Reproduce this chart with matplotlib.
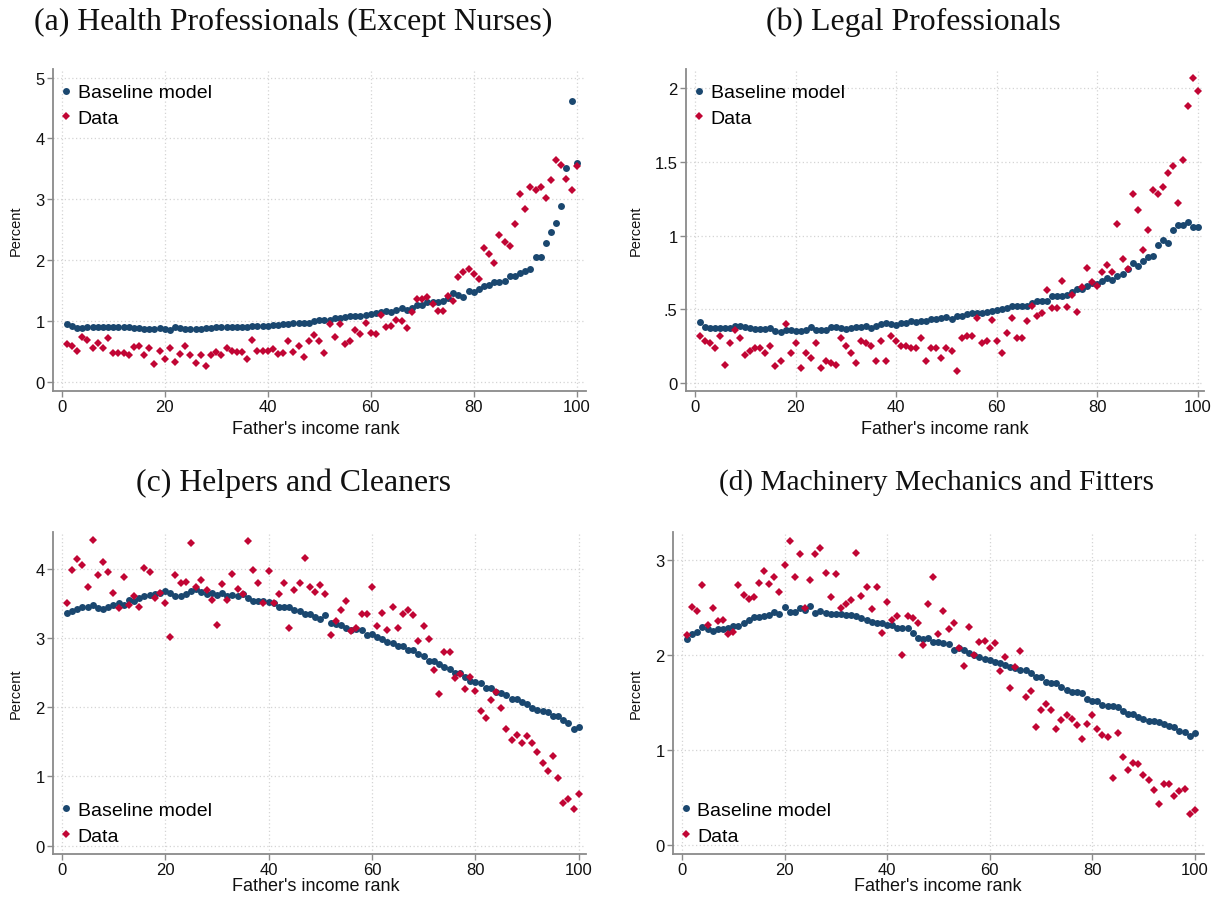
import matplotlib
matplotlib.use("Agg")
import matplotlib.pyplot as plt
import numpy as np

W, H = 1217, 904

rank = np.arange(1, 101)

# (a) Health Professionals (Except Nurses)
health_model = [
    0.95, 0.92, 0.89, 0.89, 0.90, 0.90, 0.91, 0.90, 0.90, 0.90,
    0.91, 0.90, 0.90, 0.89, 0.89, 0.88, 0.87, 0.87, 0.89, 0.88,
    0.86, 0.90, 0.89, 0.88, 0.88, 0.88, 0.88, 0.89, 0.89, 0.90,
    0.90, 0.90, 0.90, 0.91, 0.91, 0.91, 0.93, 0.93, 0.92, 0.92,
    0.94, 0.94, 0.95, 0.96, 0.97, 0.98, 0.98, 0.98, 1.01, 1.02,
    1.02, 1.03, 1.05, 1.06, 1.07, 1.08, 1.08, 1.08, 1.10, 1.12,
    1.13, 1.15, 1.17, 1.16, 1.18, 1.22, 1.19, 1.22, 1.27, 1.27,
    1.31, 1.31, 1.32, 1.34, 1.39, 1.47, 1.43, 1.40, 1.49, 1.48,
    1.53, 1.58, 1.59, 1.65, 1.64, 1.66, 1.75, 1.75, 1.80, 1.83,
    1.86, 2.06, 2.06, 2.29, 2.47, 2.61, 2.90, 3.51, 4.61, 3.59,
]
health_data = [
    0.63, 0.60, 0.52, 0.75, 0.70, 0.57, 0.64, 0.57, 0.72, 0.48,
    0.48, 0.48, 0.45, 0.58, 0.60, 0.45, 0.56, 0.30, 0.52, 0.39,
    0.56, 0.33, 0.46, 0.60, 0.45, 0.31, 0.45, 0.26, 0.45, 0.49,
    0.45, 0.57, 0.52, 0.49, 0.49, 0.39, 0.70, 0.52, 0.52, 0.52,
    0.55, 0.46, 0.48, 0.67, 0.50, 0.59, 0.41, 0.68, 0.77, 0.67,
    0.48, 0.95, 0.75, 0.95, 0.62, 0.68, 0.86, 0.79, 0.97, 0.81,
    0.79, 1.11, 0.90, 0.93, 1.03, 1.00, 0.89, 1.15, 1.36, 1.36,
    1.40, 1.28, 1.17, 1.17, 1.41, 1.34, 1.72, 1.81, 1.86, 1.78,
    1.70, 2.21, 2.10, 1.95, 2.42, 2.30, 2.24, 2.60, 3.09, 2.84,
    3.21, 3.15, 3.21, 3.02, 3.32, 3.65, 3.56, 3.33, 3.15, 3.55,
]

# (b) Legal Professionals
legal_model = [
    0.416, 0.377, 0.371, 0.371, 0.373, 0.371, 0.375, 0.386, 0.384, 0.377,
    0.373, 0.368, 0.366, 0.366, 0.373, 0.355, 0.348, 0.357, 0.357, 0.350,
    0.355, 0.362, 0.377, 0.362, 0.362, 0.357, 0.377, 0.382, 0.375, 0.366,
    0.371, 0.377, 0.377, 0.386, 0.373, 0.384, 0.400, 0.407, 0.400, 0.391,
    0.407, 0.409, 0.418, 0.411, 0.418, 0.423, 0.432, 0.432, 0.443, 0.450,
    0.436, 0.456, 0.452, 0.468, 0.475, 0.475, 0.477, 0.479, 0.486, 0.497,
    0.502, 0.508, 0.520, 0.524, 0.524, 0.524, 0.540, 0.554, 0.558, 0.554,
    0.588, 0.590, 0.590, 0.594, 0.619, 0.640, 0.640, 0.660, 0.680, 0.669,
    0.694, 0.714, 0.701, 0.728, 0.739, 0.771, 0.816, 0.795, 0.825, 0.852,
    0.863, 0.938, 0.967, 0.951, 1.037, 1.071, 1.073, 1.089, 1.055, 1.058,
]
legal_data = [
    0.319, 0.282, 0.269, 0.235, 0.321, 0.122, 0.271, 0.357, 0.307, 0.188,
    0.219, 0.240, 0.237, 0.201, 0.253, 0.118, 0.149, 0.402, 0.201, 0.269,
    0.102, 0.203, 0.167, 0.271, 0.102, 0.149, 0.136, 0.120, 0.303, 0.253,
    0.201, 0.136, 0.285, 0.271, 0.251, 0.151, 0.285, 0.151, 0.319, 0.285,
    0.253, 0.253, 0.235, 0.235, 0.303, 0.151, 0.235, 0.235, 0.169, 0.235,
    0.219, 0.084, 0.303, 0.321, 0.321, 0.441, 0.271, 0.287, 0.425, 0.285,
    0.203, 0.339, 0.441, 0.307, 0.307, 0.423, 0.524, 0.456, 0.475, 0.628,
    0.511, 0.511, 0.694, 0.513, 0.594, 0.479, 0.651, 0.782, 0.685, 0.660,
    0.755, 0.800, 0.750, 1.078, 0.841, 0.771, 1.284, 1.171, 0.902, 1.035,
    1.308, 1.284, 1.327, 1.424, 1.469, 1.220, 1.510, 1.876, 2.066, 1.982,
]

# (c) Helpers and Cleaners
helpers_model = [
    3.36, 3.39, 3.42, 3.44, 3.45, 3.47, 3.43, 3.42, 3.45, 3.47,
    3.50, 3.48, 3.55, 3.54, 3.58, 3.60, 3.62, 3.64, 3.65, 3.68,
    3.65, 3.60, 3.61, 3.64, 3.68, 3.70, 3.66, 3.64, 3.65, 3.62,
    3.65, 3.60, 3.62, 3.60, 3.63, 3.57, 3.53, 3.54, 3.53, 3.52,
    3.51, 3.44, 3.45, 3.44, 3.41, 3.39, 3.35, 3.35, 3.30, 3.27,
    3.33, 3.21, 3.20, 3.18, 3.14, 3.12, 3.13, 3.11, 3.04, 3.05,
    3.01, 2.98, 2.94, 2.93, 2.89, 2.88, 2.83, 2.83, 2.77, 2.74,
    2.66, 2.66, 2.62, 2.58, 2.55, 2.49, 2.50, 2.44, 2.38, 2.36,
    2.35, 2.27, 2.27, 2.22, 2.20, 2.17, 2.12, 2.12, 2.07, 2.04,
    1.99, 1.96, 1.94, 1.93, 1.88, 1.87, 1.82, 1.77, 1.69, 1.71,
]
helpers_data = [
    3.51, 3.98, 4.14, 4.05, 3.73, 4.41, 3.91, 4.09, 3.95, 3.65,
    3.43, 3.88, 3.47, 3.60, 3.44, 4.01, 3.95, 3.58, 3.65, 3.51,
    3.02, 3.91, 3.79, 3.81, 4.37, 3.73, 3.83, 3.69, 3.55, 3.18,
    3.78, 3.55, 3.92, 3.70, 3.64, 4.40, 3.98, 3.79, 3.50, 3.96,
    3.50, 3.64, 3.79, 3.14, 3.69, 3.79, 4.16, 3.73, 3.66, 3.77,
    3.64, 3.04, 3.25, 3.40, 3.54, 3.10, 3.14, 3.35, 3.35, 3.73,
    3.17, 3.36, 3.11, 3.45, 3.14, 3.35, 3.41, 3.33, 2.95, 3.17,
    2.99, 2.54, 2.19, 2.80, 2.80, 2.42, 2.48, 2.26, 2.43, 2.23,
    1.95, 1.84, 2.10, 2.22, 1.99, 1.68, 1.53, 1.60, 1.48, 1.58,
    1.48, 1.35, 1.19, 1.08, 1.30, 0.98, 0.61, 0.67, 0.53, 0.75,
]

# (d) Machinery Mechanics and Fitters
mechanics_model = [
    2.17, 2.22, 2.24, 2.29, 2.27, 2.25, 2.27, 2.27, 2.28, 2.30,
    2.30, 2.33, 2.37, 2.40, 2.40, 2.41, 2.42, 2.45, 2.43, 2.50,
    2.45, 2.45, 2.49, 2.47, 2.51, 2.44, 2.46, 2.44, 2.43, 2.43,
    2.43, 2.42, 2.42, 2.41, 2.39, 2.37, 2.35, 2.34, 2.33, 2.31,
    2.31, 2.28, 2.28, 2.28, 2.23, 2.18, 2.17, 2.18, 2.14, 2.14,
    2.12, 2.11, 2.05, 2.07, 2.05, 2.02, 2.00, 1.98, 1.96, 1.95,
    1.93, 1.91, 1.89, 1.87, 1.86, 1.84, 1.84, 1.81, 1.77, 1.77,
    1.72, 1.70, 1.71, 1.66, 1.63, 1.61, 1.61, 1.60, 1.54, 1.52,
    1.52, 1.47, 1.46, 1.46, 1.45, 1.41, 1.38, 1.38, 1.35, 1.33,
    1.31, 1.31, 1.30, 1.27, 1.25, 1.24, 1.20, 1.19, 1.15, 1.18,
]
mechanics_data = [
    2.21, 2.50, 2.46, 2.73, 2.31, 2.49, 2.36, 2.37, 2.22, 2.24,
    2.73, 2.63, 2.59, 2.61, 2.75, 2.88, 2.74, 2.82, 2.66, 2.94,
    3.20, 2.82, 3.06, 2.49, 2.79, 3.06, 3.12, 2.86, 2.61, 2.85,
    2.49, 2.53, 2.58, 3.07, 2.62, 2.71, 2.48, 2.71, 2.23, 2.56,
    2.37, 2.41, 2.00, 2.41, 2.39, 2.33, 2.10, 2.53, 2.82, 2.22,
    2.46, 2.27, 2.33, 2.07, 1.88, 2.29, 2.00, 2.14, 2.15, 2.07,
    2.12, 1.83, 1.98, 1.65, 1.87, 2.04, 1.56, 1.62, 1.24, 1.42,
    1.48, 1.42, 1.22, 1.32, 1.37, 1.33, 1.26, 1.12, 1.27, 1.37,
    1.22, 1.16, 1.14, 0.71, 1.18, 0.93, 0.79, 0.87, 0.85, 0.74,
    0.69, 0.58, 0.43, 0.64, 0.64, 0.52, 0.57, 0.59, 0.33, 0.37,
]

titles = [
    "(a) Health Professionals (Except Nurses)",
    "(b) Legal Professionals",
    "(c) Helpers and Cleaners",
    "(d) Machinery Mechanics and Fitters",
]
xticks = [0, 20, 40, 60, 80, 100]
yticks_a = [0, 1, 2, 3, 4, 5]
yticks_b = [0, 0.5, 1, 1.5, 2]
ytick_labels_b = ["0", ".5", "1", "1.5", "2"]
yticks_c = [0, 1, 2, 3, 4]
yticks_d = [0, 1, 2, 3]

NAVY = "#1a476f"
CRANBERRY = "#c10534"
AXIS_GRAY = "#8a8a8a"
GRID_GRAY = "#d4d4d4"

SANS = ["Liberation Sans", "DejaVu Sans"]
SERIF = ["Liberation Serif", "DejaVu Serif"]
plt.rcParams["font.family"] = SANS

fig = plt.figure(figsize=(W / 100, H / 100), dpi=100)
fig.patch.set_facecolor("white")


def axes_px(left, top, right, bottom):
    return fig.add_axes([left / W, 1 - bottom / H, (right - left) / W, (bottom - top) / H])


panels = [
    dict(box=(53, 70, 586, 392), xlim=(-1.69, 101.8), ylim=(-0.143, 5.14),
         yticks=yticks_a, ylabels=None, model=health_model, data=health_data,
         legend="upper left", leg_xy=(0.0099, 0.954),
         title_xy=(293, 22), title_size=22.9, xlab_xy=(316, 430), ylab_xy=(16, 231)),
    dict(box=(686, 70, 1204, 392), xlim=(-1.79, 101.2), ylim=(-0.054, 2.13),
         yticks=yticks_b, ylabels=ytick_labels_b, model=legal_model, data=legal_data,
         legend="upper left", leg_xy=(0.0102, 0.954),
         title_xy=(913, 22), title_size=22.9, xlab_xy=(945, 430), ylab_xy=(636, 231)),
    dict(box=(53, 533, 586, 855), xlim=(-1.69, 101.4), ylim=(-0.12, 4.53),
         yticks=yticks_c, ylabels=None, model=helpers_model, data=helpers_data,
         legend="lower left", leg_xy=(0.0099, 0.029),
         title_xy=(293, 483), title_size=22.9, xlab_xy=(316, 887), ylab_xy=(16, 694)),
    dict(box=(673, 533, 1204, 855), xlim=(-1.75, 101.8), ylim=(-0.09, 3.29),
         yticks=yticks_d, ylabels=None, model=mechanics_model, data=mechanics_data,
         legend="lower left", leg_xy=(0.0090, 0.029),
         title_xy=(936, 483), title_size=21.2, xlab_xy=(938, 887), ylab_xy=(636, 694)),
]

for p, title in zip(panels, titles):
    ax = axes_px(*p["box"])
    ax.set_xlim(*p["xlim"])
    ax.set_ylim(*p["ylim"])
    ax.set_xticks(xticks)
    ax.set_yticks(p["yticks"])
    if p["ylabels"] is not None:
        ax.set_yticklabels(p["ylabels"])
    ax.grid(True, linestyle=(0, (1, 2)), color=GRID_GRAY, linewidth=0.9)
    ax.set_axisbelow(True)
    for side in ("top", "right"):
        ax.spines[side].set_visible(False)
    for side in ("left", "bottom"):
        ax.spines[side].set_color(AXIS_GRAY)
        ax.spines[side].set_linewidth(1.3)
    ax.tick_params(direction="out", length=4, width=1, color=AXIS_GRAY,
                   labelsize=12, labelcolor="#111111", pad=2)

    ax.plot(rank, p["model"], linestyle="none", marker="o", markersize=5.0,
            color=NAVY, markeredgewidth=0, label="Baseline model", zorder=3)
    ax.plot(rank, p["data"], linestyle="none", marker="D", markersize=4.3,
            color=CRANBERRY, markeredgewidth=0, label="Data", zorder=3)

    ax.legend(loc=p["legend"], bbox_to_anchor=p["leg_xy"], frameon=False,
              fontsize=14, handlelength=0.8, handletextpad=0.2,
              labelspacing=0.42, borderpad=0, borderaxespad=0, markerscale=1.0)

    fig.text(p["title_xy"][0] / W, 1 - p["title_xy"][1] / H, title,
             ha="center", va="center", fontsize=p["title_size"], family=SERIF,
             color="#111111")
    fig.text(p["xlab_xy"][0] / W, 1 - p["xlab_xy"][1] / H, "Father's income rank",
             ha="center", va="center", fontsize=13, color="#111111")
    fig.text(p["ylab_xy"][0] / W, 1 - p["ylab_xy"][1] / H, "Percent",
             ha="center", va="center", rotation=90, fontsize=10.5, color="#111111")

fig.savefig("out.png", dpi=100, facecolor="white")
